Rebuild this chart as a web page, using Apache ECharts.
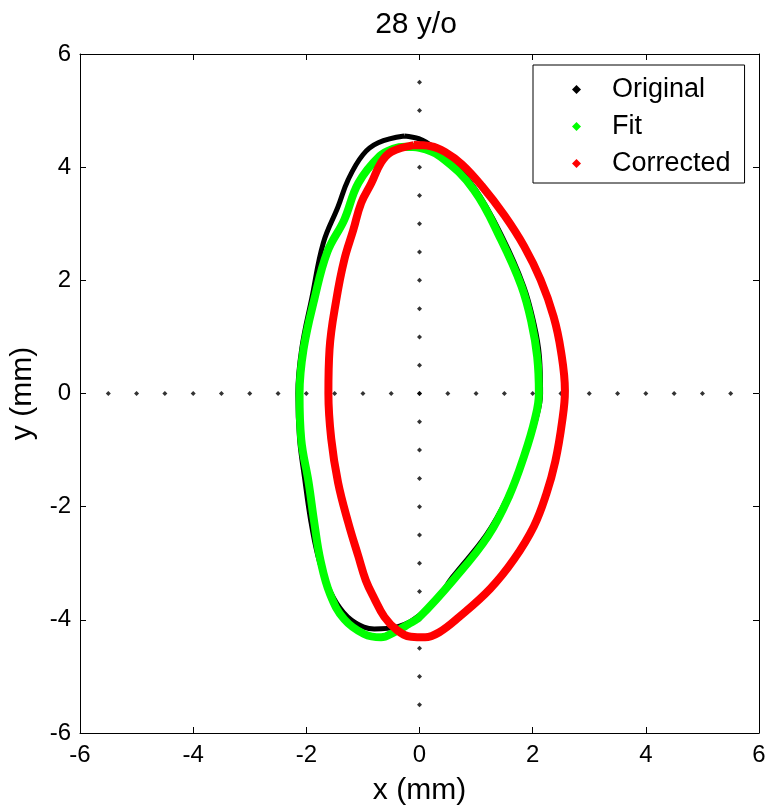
<!DOCTYPE html>
<html>
<head>
<meta charset="utf-8">
<script src="https://cdn.jsdelivr.net/npm/echarts@6/dist/echarts.min.js"></script>
<style>
html,body{margin:0;padding:0;background:#fff;}
#chart{width:770px;height:811px;}
</style>
</head>
<body>
<div id="chart"></div>
<script>
// Tick labels
const xTicks = [-6, -4, -2, 0, 2, 4, 6];
const yTicks = [-6, -4, -2, 0, 2, 4, 6];

// Guide dots along the axes (x = 0 and y = 0)
const guideSteps = [-5.5, -5, -4.5, -4, -3.5, -3, -2.5, -2, -1.5, -1, -0.5, 0, 0.5, 1, 1.5, 2, 2.5, 3, 3.5, 4, 4.5, 5, 5.5];

// Original (black)
const originalX = [-0.27, 0.0, 0.15, 0.45, 0.98, 1.47, 1.84, 2.02, 2.12, 2.14, 2.06, 1.85, 1.55, 1.18, 0.58, 0.33, 0.0, -0.38, -0.80, -1.15, -1.40, -1.62, -1.80, -1.93, -2.03, -2.12, -2.15, -2.08, -1.90, -1.70, -1.44, -1.26, -1.00, -0.73, -0.27];
const originalY = [4.55, 4.50, 4.42, 4.22, 3.62, 2.75, 1.90, 1.25, 0.65, 0.0, -0.45, -1.12, -1.85, -2.50, -3.25, -3.60, -3.92, -4.12, -4.16, -4.04, -3.80, -3.40, -2.85, -2.20, -1.50, -0.80, 0.0, 0.80, 1.70, 2.66, 3.30, 3.78, 4.22, 4.43, 4.55];

// Fit (green)
const fitX = [-0.25, 0.0, 0.38, 0.96, 1.44, 1.80, 1.98, 2.08, 2.11, 2.04, 1.85, 1.58, 1.21, 0.61, 0.0, -0.20, -0.45, -0.68, -0.98, -1.33, -1.58, -1.75, -1.86, -1.96, -2.09, -2.12, -2.05, -1.86, -1.63, -1.33, -1.08, -0.70, -0.45, -0.25];
const fitY = [4.36, 4.34, 4.18, 3.60, 2.72, 1.90, 1.25, 0.65, 0.0, -0.45, -1.10, -1.82, -2.52, -3.28, -3.95, -4.08, -4.22, -4.31, -4.25, -3.99, -3.55, -2.95, -2.28, -1.57, -0.81, 0.0, 0.78, 1.66, 2.50, 3.07, 3.72, 4.20, 4.33, 4.36];

// Corrected (red)
const correctedX = [-0.10, 0.20, 0.45, 0.75, 1.10, 1.50, 1.85, 2.14, 2.37, 2.50, 2.57, 2.52, 2.40, 2.24, 2.02, 1.67, 1.25, 0.70, 0.35, 0.10, -0.15, -0.40, -0.62, -0.80, -0.95, -1.08, -1.26, -1.44, -1.56, -1.61, -1.59, -1.47, -1.33, -1.17, -1.03, -0.85, -0.68, -0.50, -0.10];
const correctedY = [4.39, 4.37, 4.27, 4.05, 3.67, 3.15, 2.60, 2.01, 1.36, 0.75, 0.05, -0.50, -1.20, -1.78, -2.35, -2.93, -3.45, -3.95, -4.22, -4.31, -4.30, -4.18, -3.95, -3.62, -3.30, -2.88, -2.28, -1.57, -0.80, 0.0, 0.78, 1.66, 2.36, 2.89, 3.37, 3.72, 4.08, 4.27, 4.39];

const zip = (xs, ys) => xs.map((v, i) => [v, ys[i]]);
const guideData = guideSteps.map(v => [v, 0]).concat(guideSteps.map(v => [0, v]));

const FONT = 'Liberation Sans';
const chart = echarts.init(document.getElementById('chart'));

const axisCommon = {
  type: 'value', min: -6, max: 6, interval: 2,
  axisLine: { show: true, onZero: false, lineStyle: { color: '#000', width: 1 } },
  axisTick: { show: true, inside: true, length: 6, lineStyle: { color: '#000' } },
  splitLine: { show: false }
};

chart.setOption({
  backgroundColor: '#fff',
  animation: false,
  title: {
    text: '28 y/o', left: 411, top: 5, textAlign: 'center',
    textStyle: { fontFamily: FONT, fontSize: 30, fontWeight: 'normal', color: '#000' }
  },
  grid: { left: 78, top: 54, width: 681, height: 680 },
  legend: {
    orient: 'vertical', left: 533, top: 65,
    backgroundColor: '#fff', borderColor: '#000', borderWidth: 1,
    padding: [11, 14, 6, 39],
    itemWidth: 9, itemHeight: 9, itemGap: 10,
    textStyle: { fontFamily: FONT, fontSize: 27, color: '#000', padding: [0, 0, 0, 26] },
    data: [
      { name: 'Original', icon: 'diamond', itemStyle: { color: '#000' } },
      { name: 'Fit', icon: 'diamond', itemStyle: { color: '#00ff00' } },
      { name: 'Corrected', icon: 'diamond', itemStyle: { color: '#ff0000' } }
    ]
  },
  xAxis: [
    Object.assign({}, axisCommon, {
      position: 'bottom', name: 'x (mm)', nameLocation: 'middle', nameGap: 43,
      nameTextStyle: { fontFamily: FONT, fontSize: 30, color: '#000' },
      axisLabel: { fontFamily: FONT, fontSize: 24, color: '#000', margin: 10 }
    }),
    Object.assign({}, axisCommon, { position: 'top', axisLabel: { show: false } })
  ],
  yAxis: [
    Object.assign({}, axisCommon, {
      position: 'left', name: 'y (mm)', nameLocation: 'middle', nameGap: 42,
      nameTextStyle: { fontFamily: FONT, fontSize: 30, color: '#000' },
      axisLabel: { fontFamily: FONT, fontSize: 24, color: '#000', margin: 9 }
    }),
    Object.assign({}, axisCommon, { position: 'right', axisLabel: { show: false } })
  ],
  series: [
    {
      name: 'guide', type: 'scatter', data: guideData, symbol: 'diamond', symbolSize: 5,
      itemStyle: { color: '#000' }, silent: true, z: 1
    },
    {
      name: 'Original', type: 'line', data: zip(originalX, originalY), smooth: 0.4,
      showSymbol: false, lineStyle: { color: '#000', width: 5 }, itemStyle: { color: '#000' }, z: 2
    },
    {
      name: 'Fit', type: 'line', data: zip(fitX, fitY), smooth: 0.4,
      showSymbol: false, lineStyle: { color: '#00ff00', width: 8 }, itemStyle: { color: '#00ff00' }, z: 3
    },
    {
      name: 'Corrected', type: 'line', data: zip(correctedX, correctedY), smooth: 0.4,
      showSymbol: false, lineStyle: { color: '#ff0000', width: 8 }, itemStyle: { color: '#ff0000' }, z: 4
    }
  ]
});
</script>
</body>
</html>
